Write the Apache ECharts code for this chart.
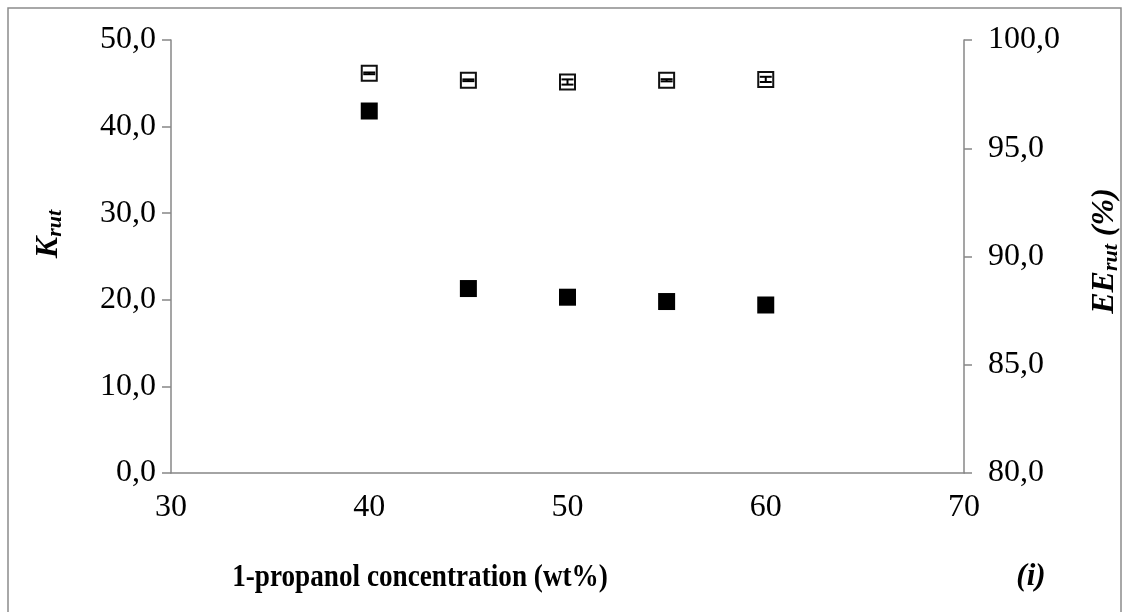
<!DOCTYPE html>
<html>
<head>
<meta charset="utf-8">
<script src="https://cdn.jsdelivr.net/npm/echarts@6/dist/echarts.min.js"></script>
<style>
  html, body { margin: 0; padding: 0; background: #fff; }
  #chart { width: 1131px; height: 612px; }
</style>
</head>
<body>
<div id="chart"></div>
<script>
// 1-propanol concentration (wt%)
const concentration = [40, 45, 50, 55, 60];
// partition coefficient of rutin (left axis)
const kRut = [41.8, 21.3, 20.3, 19.8, 19.4];
// extraction efficiency of rutin, % (right axis)
const eeRut = [98.46, 98.14, 98.06, 98.14, 98.18];
// standard deviation of the extraction efficiency
const eeErr = [0.04, 0.04, 0.12, 0.05, 0.12];

const FONT = '"Liberation Serif", "Times New Roman", serif';
const AXIS_GREY = '#878787';
const TICK_SIZE = 32;
const commaFmt = v => v.toFixed(1).replace('.', ',');

const eeErrData = concentration.map((c, i) => [c, eeRut[i] - eeErr[i], eeRut[i] + eeErr[i]]);

const titleRich = {
  k: { font: 'italic bold 32px ' + FONT, fill: '#000' },
  s: { font: 'italic bold 22px ' + FONT, fill: '#000', padding: [12, 0, 0, 0] }
};

const chart = echarts.init(document.getElementById('chart'), null, { renderer: 'canvas' });

chart.setOption({
  animation: false,
  backgroundColor: '#fff',
  grid: { left: 171, right: 167, top: 40, bottom: 139, containLabel: false },
  graphic: [
    {
      type: 'rect',
      shape: { x: 8, y: 8, width: 1113, height: 620 },
      style: { fill: null, stroke: '#8c8c8c', lineWidth: 1.5 },
      silent: true
    },
    {
      // x axis title, set in a narrow bold serif
      type: 'text',
      x: 420, y: 578,
      scaleX: 0.85,
      style: {
        text: '1-propanol concentration (wt%)',
        font: 'bold 32px ' + FONT, fill: '#000',
        align: 'center', verticalAlign: 'middle'
      }
    },
    {
      type: 'text',
      x: 1031, y: 577,
      style: { text: '(i)', font: 'italic bold 31px ' + FONT, fill: '#000', align: 'center', verticalAlign: 'middle' }
    },
    {
      // left axis title
      type: 'text',
      x: 49, y: 234,
      rotation: Math.PI / 2,
      style: {
        text: '{k|K}{s|rut}',
        rich: titleRich,
        align: 'center', verticalAlign: 'middle'
      }
    },
    {
      // right axis title
      type: 'text',
      x: 1105, y: 251,
      rotation: Math.PI / 2,
      style: {
        text: '{k|EE}{s|rut}{k| (%)}',
        rich: titleRich,
        align: 'center', verticalAlign: 'middle'
      }
    }
  ],
  xAxis: {
    type: 'value',
    min: 30, max: 70, interval: 10,
    axisLine: { show: true, onZero: false, lineStyle: { color: AXIS_GREY, width: 1.5 } },
    axisTick: { show: false },
    splitLine: { show: false },
    axisLabel: { margin: 19, fontFamily: FONT, fontSize: TICK_SIZE, color: '#000' }
  },
  yAxis: [
    {
      type: 'value',
      min: 0, max: 50, interval: 10,
      position: 'left',
      axisLine: { show: true, lineStyle: { color: AXIS_GREY, width: 1.5 } },
      axisTick: { show: true, inside: false, length: 9, lineStyle: { color: AXIS_GREY, width: 1.5 } },
      splitLine: { show: false },
      axisLabel: { margin: 15, fontFamily: FONT, fontSize: TICK_SIZE, color: '#000', formatter: commaFmt }
    },
    {
      type: 'value',
      min: 80, max: 100, interval: 5,
      position: 'right',
      axisLine: { show: true, lineStyle: { color: AXIS_GREY, width: 1.5 } },
      axisTick: { show: true, inside: false, length: 8, lineStyle: { color: AXIS_GREY, width: 1.5 } },
      splitLine: { show: false },
      axisLabel: { margin: 24, fontFamily: FONT, fontSize: TICK_SIZE, color: '#000', formatter: commaFmt }
    }
  ],
  series: [
    {
      name: 'K rut',
      type: 'scatter',
      yAxisIndex: 0,
      symbol: 'rect',
      symbolSize: 17,
      itemStyle: { color: '#000', opacity: 1 },
      emphasis: { disabled: true },
      data: concentration.map((c, i) => [c, kRut[i]]),
      z: 3
    },
    {
      name: 'EE rut',
      type: 'scatter',
      yAxisIndex: 1,
      symbol: 'rect',
      symbolSize: 15,
      itemStyle: { color: '#fff', borderColor: '#111', borderWidth: 2, opacity: 1 },
      emphasis: { disabled: true },
      data: concentration.map((c, i) => [c, eeRut[i]]),
      z: 3
    },
    {
      name: 'EE rut error',
      type: 'custom',
      yAxisIndex: 1,
      z: 4,
      data: eeErrData,
      renderItem: function (params, api) {
        const x = api.value(0);
        const lo = api.coord([x, api.value(1)]);
        const hi = api.coord([x, api.value(2)]);
        const half = 6;
        const style = { stroke: '#000', lineWidth: 2 };
        return {
          type: 'group',
          children: [
            { type: 'line', shape: { x1: lo[0], y1: lo[1], x2: hi[0], y2: hi[1] }, style: style },
            { type: 'line', shape: { x1: lo[0] - half, y1: lo[1], x2: lo[0] + half, y2: lo[1] }, style: style },
            { type: 'line', shape: { x1: hi[0] - half, y1: hi[1], x2: hi[0] + half, y2: hi[1] }, style: style }
          ]
        };
      }
    }
  ]
});
</script>
</body>
</html>
